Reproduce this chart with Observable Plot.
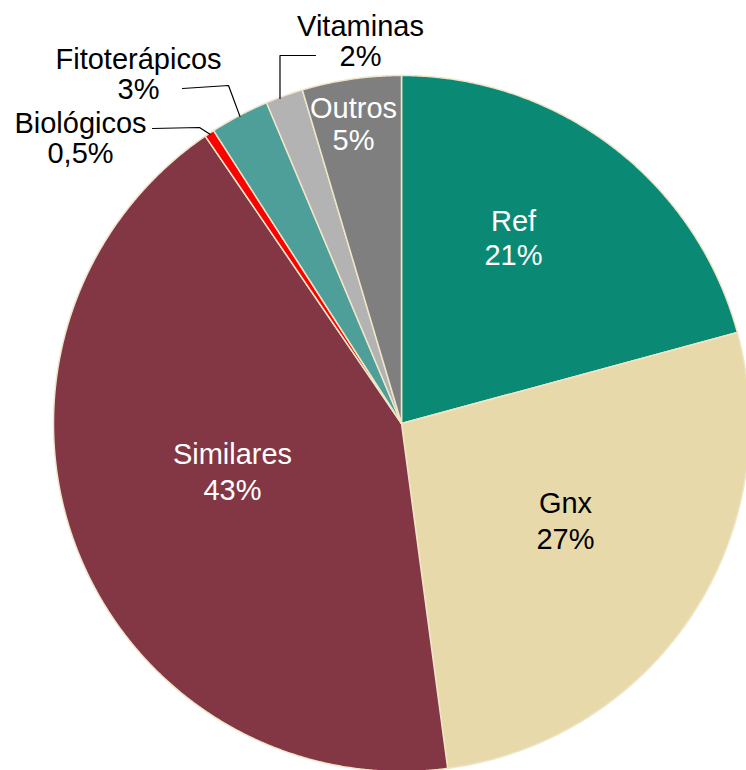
<!DOCTYPE html>
<html><head><meta charset="utf-8">
<script src="https://cdn.jsdelivr.net/npm/d3@7"></script>
<script src="https://cdn.jsdelivr.net/npm/@observablehq/plot@0.6"></script>
<style>body{margin:0;background:#fff} #chart svg{display:block}</style>
</head><body><div id="chart"></div>
<script>
// ---- data ----
const categories = ["Ref", "Gnx", "Similares", "Biológicos", "Fitoterápicos", "Vitaminas", "Outros"];
const shares = [20.8, 27.1, 42.6, 0.46, 2.74, 1.74, 4.6];
const percentLabels = ["21%", "27%", "43%", "0,5%", "3%", "2%", "5%"];
const sliceColors = ["#0a8a74", "#e8d9ab", "#833644", "#ff0000", "#4e9e99", "#b3b3b3", "#7f7f7f"];
const textColors = ["#ffffff", "#000000", "#ffffff", "#000000", "#000000", "#000000", "#ffffff"];

// ---- layout ----
const W = 746, H = 770, CX = 401, CY = 423, R = 348;
const FONT = "Liberation Sans, Arial, Helvetica, sans-serif";
const FS = 29;
// label: x centre, baseline of last line, line height (em)
const labelLayout = [
  [513, 264, 1.17],
  [565, 548, 1.21],
  [232, 499, 1.21],
  [80, 162, 1.03],
  [138, 98, 1.03],
  [360, 65, 1.03],
  [353, 149, 1.07]
];
// leader: fraction along the slice where it starts, then elbow points
const leaderLayout = {
  3: {f: 0.5, pts: [[199, 127], [152, 128]]},
  4: {f: 0.5, pts: [[228, 85], [182, 88]]},
  5: {f: 0.37, pts: [[null, 55], [315, 55]]}
};

const pie = d3.pie().sort(null).value(d => d)(shares);
const polar = (a, r) => ({x: CX + r * Math.sin(a), y: CY - r * Math.cos(a)});

const marks = [];
pie.forEach((p, i) => {
  const pts = [{x: CX, y: CY}];
  const n = Math.max(2, Math.ceil((p.endAngle - p.startAngle) / (Math.PI / 720)));
  for (let k = 0; k <= n; k++) {
    const a = p.startAngle + (p.endAngle - p.startAngle) * k / n;
    pts.push(polar(a, R));
  }
  marks.push(Plot.line(pts, {x: "x", y: "y", fill: sliceColors[i], stroke: "#efe5c8", strokeWidth: 1.5, curve: "linear-closed"}));
});

const leaderPts = [];
Object.entries(leaderLayout).forEach(([k, L]) => {
  const p = pie[+k];
  const s = polar(p.startAngle + (p.endAngle - p.startAngle) * L.f, R - 1);
  leaderPts.push({key: k, x: s.x, y: s.y});
  L.pts.forEach(([ex, ey]) => leaderPts.push({key: k, x: ex ?? s.x, y: ey}));
});
marks.push(Plot.line(leaderPts, {x: "x", y: "y", z: "key", stroke: "#000", strokeWidth: 1.2}));

categories.forEach((c, i) => {
  const [lx, ly, lh] = labelLayout[i];
  marks.push(Plot.text([{x: lx, y: ly, t: c + "\n" + percentLabels[i]}], {
    x: "x", y: "y", text: "t", fill: textColors[i], fontSize: FS, fontFamily: FONT,
    textAnchor: "middle", lineAnchor: "bottom", lineHeight: lh
  }));
});

const chart = Plot.plot({
  width: W, height: H, margin: 0,
  x: {domain: [0, W], axis: null},
  y: {domain: [H, 0], axis: null},
  marks
});
document.getElementById("chart").append(chart);
</script>
</body></html>
